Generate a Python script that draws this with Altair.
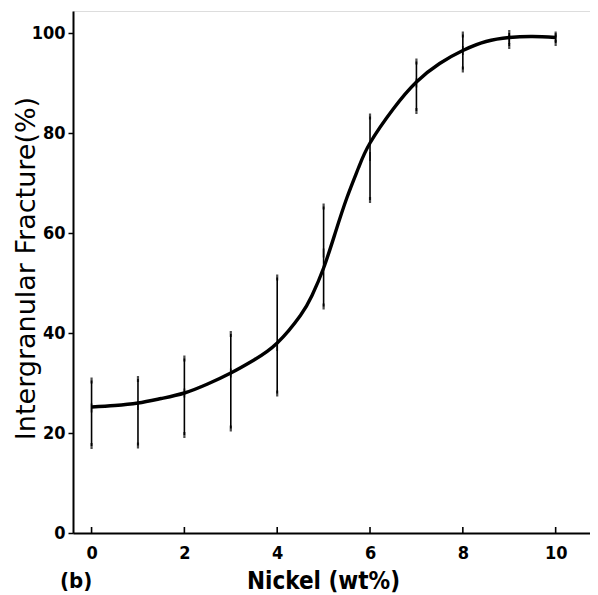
import altair as alt
import pandas as pd

# Data
nickel = [0, 1, 2, 3, 4, 5, 6, 7, 8, 9, 10]
mean_val = [25.0, 25.5, 28.0, 32.0, 37.3, 56.0, 75.3, 90.0, 96.5, 98.7, 99.1]
low_val = [17.4, 17.5, 19.6, 20.9, 27.9, 45.3, 66.6, 84.4, 92.7, 97.4, 98.0]
high_val = [30.5, 30.8, 34.9, 39.8, 51.1, 65.3, 83.3, 94.3, 99.7, 100.0, 99.7]

curve_x = [0, 0.5, 1, 1.5, 2, 2.5, 3, 3.5, 4, 4.5, 4.75, 5, 5.25, 5.5, 5.75, 6,
           6.5, 7, 7.5, 8, 8.5, 9, 9.5, 10]
curve_y = [25.2, 25.5, 26.0, 26.9, 28.0, 29.8, 32.0, 34.6, 38.0, 43.5, 47.5, 53.0,
           60.0, 67.0, 73.0, 78.0, 84.8, 90.2, 93.9, 96.5, 98.3, 99.1, 99.3, 99.1]

x_ticks = [0, 2, 4, 6, 8, 10]
y_ticks = [0, 20, 40, 60, 80, 100]

pts = pd.DataFrame({"x": nickel, "m": mean_val, "lo": low_val, "hi": high_val})
curve = pd.DataFrame({"x": curve_x, "y": curve_y})
xt = pd.DataFrame({"x": x_ticks})

W, H = 517, 522
FONT = "DejaVu Sans"
CFONT = "DejaVu Sans Condensed, DejaVu Sans"

xs = alt.Scale(domain=[-0.4, 10.74], nice=False, zero=False)
ys = alt.Scale(domain=[0, 104.4], nice=False, zero=False)

xaxis = alt.Axis(values=x_ticks, ticks=False, labelFontSize=18, labelFontWeight="bold",
                 labelFont=CFONT, labelPadding=11, domainWidth=2, domainColor="black",
                 labelColor="black", grid=False, title="Nickel (wt%)", titleFont=CFONT,
                 titleFontSize=24, titleFontWeight="bold", titleColor="black",
                 titleX=250, titleY=55, titleBaseline="alphabetic")
yaxis = alt.Axis(values=y_ticks, tickSize=5, tickWidth=1.5, tickColor="black",
                 labelFontSize=18, labelFontWeight="bold", labelFont=CFONT, labelPadding=3,
                 domainWidth=2, domainColor="black", labelColor="black", grid=False,
                 title="Intergranular Fracture(%)", titleFont=FONT, titleFontSize=27,
                 titleFontWeight="normal", titleColor="black",
                 titleX=-39, titleY=257, titleBaseline="alphabetic", titleAngle=270)

line = alt.Chart(curve).mark_line(color="black", strokeWidth=3.4, interpolate="natural").encode(
    x=alt.X("x:Q", scale=xs, axis=xaxis),
    y=alt.Y("y:Q", scale=ys, axis=yaxis),
)

bars = alt.Chart(pts).mark_rule(color="black", strokeWidth=1.6).encode(
    x=alt.X("x:Q", scale=xs), y=alt.Y("lo:Q", scale=ys), y2="hi:Q")
cap_lo = alt.Chart(pts).mark_tick(color="black", thickness=2.2, size=6).encode(
    x=alt.X("x:Q", scale=xs), y=alt.Y("lo:Q", scale=ys))
cap_hi = alt.Chart(pts).mark_tick(color="black", thickness=2.2, size=6).encode(
    x=alt.X("x:Q", scale=xs), y=alt.Y("hi:Q", scale=ys))
mid = alt.Chart(pts).mark_tick(color="black", thickness=1.8, size=9).encode(
    x=alt.X("x:Q", scale=xs), y=alt.Y("m:Q", scale=ys))

xticks = alt.Chart(xt).mark_rule(color="black", strokeWidth=1.6).encode(
    x=alt.X("x:Q", scale=xs), y=alt.value(H), y2=alt.value(H - 6))

label_b = alt.Chart(pd.DataFrame({"t": ["(b)"]})).mark_text(
    font=CFONT, fontSize=22, fontWeight="bold", color="black", align="left", baseline="alphabetic"
).encode(text="t:N", x=alt.value(-13), y=alt.value(H + 55))

chart = alt.layer(line, bars, cap_lo, cap_hi, mid, xticks, label_b).properties(
    width=W, height=H,
    autosize=alt.AutoSizeParams(type="none"),
    padding={"left": 65, "top": 3, "right": 0, "bottom": 62},
).configure_view(stroke=None).configure(background="white")

chart.save("out.html", embed_options={"renderer": "svg", "actions": False})
